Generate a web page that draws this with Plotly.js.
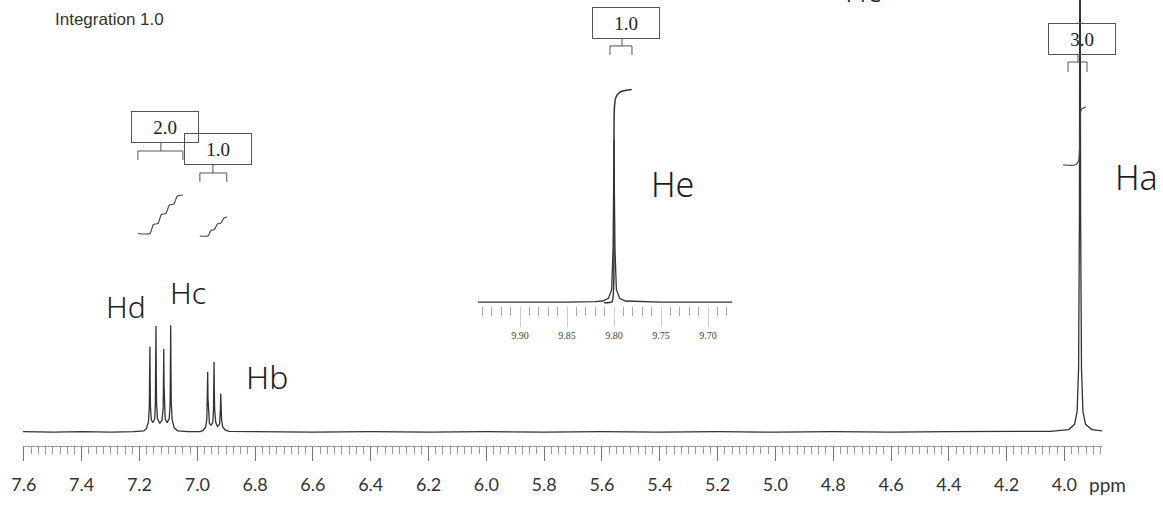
<!DOCTYPE html>
<html><head><meta charset="utf-8">
<script src="https://cdn.plot.ly/plotly-3.0.1.min.js"></script>
<style>html,body{margin:0;padding:0;background:#fff}#chart{width:1163px;height:505px}</style>
</head><body><div id="chart"></div>
<script>
// ---------- DATA ----------
// main 1H spectrum: chemical shift (ppm) and intensity (arb. units)
const specPpm = [7.603,7.50,7.40,7.30,7.22,7.185,7.176,7.169,7.166,7.165,7.164,7.163,7.162,7.159,7.153,
  7.147,7.145,7.144,7.143,7.142,7.141,7.138,7.130,7.122,7.118,7.117,7.116,7.115,7.114,7.111,7.104,
  7.097,7.094,7.093,7.092,7.091,7.090,7.087,7.080,7.068,7.03,6.99,
  6.980,6.971,6.967,6.965,6.964,6.963,6.961,6.958,6.952,6.946,6.944,6.943,6.942,6.941,6.940,6.936,6.930,
  6.923,6.921,6.920,6.919,6.918,6.916,6.912,6.904,6.890,
  6.80,6.60,6.40,6.20,6.00,5.80,5.60,5.40,5.20,5.00,4.80,4.60,4.40,4.20,4.05,
  3.985,3.965,3.956,3.951,3.948,3.947,3.946,3.945,3.944,3.941,3.936,3.927,3.905,3.870];
const specInt = [0.3,0.2,0.3,0.2,0.3,0.5,1.0,2.6,6.0,11.5,19.9,11.5,6.0,3.0,2.4,
  3.4,7.0,14.0,24.7,14.0,7.0,3.4,2.2,3.0,5.8,11.0,19.4,11.0,5.8,3.2,2.4,
  3.4,7.0,14.0,24.9,14.0,7.0,3.0,1.2,0.5,0.3,0.3,
  0.6,1.4,3.2,8.0,14.1,8.0,3.6,2.2,1.8,2.6,5.5,9.5,16.4,9.5,5.5,2.4,1.5,
  2.0,3.5,5.5,9.0,5.5,3.0,1.4,0.7,0.4,
  0.3,0.2,0.3,0.2,0.3,0.2,0.3,0.2,0.3,0.2,0.3,0.2,0.3,0.3,0.4,
  0.8,2.0,5.0,15,50,100,170,100,50,15,5.0,2.0,0.8,0.5];

// integral traces (ppm, integral level)
const intDcPpm = [7.2055,7.1640,7.1519,7.1363,7.1242,7.1087,7.0965,7.0810,7.0689,7.0498];
const intDcVal = [46.07,46.07,48.15,48.38,50.46,50.69,52.66,52.89,54.73,54.97];
const intBPpm  = [6.9910,6.9633,6.9529,6.9408,6.9304,6.9183,6.9080,6.8976];
const intBVal  = [45.50,45.50,46.77,47.00,48.27,48.50,49.65,49.88];
const intAPpm  = [4.0048,3.9633,3.9512,3.9478,3.9460,3.9443,3.9391,3.9253];
const intAVal  = [61.9,61.9,62.8,65.4,71.1,74.1,74.9,75.3];

// aldehyde inset (He)
const insetPpm = [9.9447,9.90,9.85,9.82,9.812,9.806,9.8025,9.8010,9.8003,9.8000,9.7997,9.7990,9.7975,9.794,9.788,9.75,9.70,9.6745];
const insetInt = [0.3,0.2,0.3,0.5,0.8,2,6,25,55,75,55,25,6,2,0.8,0.3,0.2,0.3];
const intEPpm  = [9.8106,9.8020,9.8001,9.8000,9.8000,9.7999,9.7995,9.7985,9.7965,9.7925,9.7868,9.7812];
const intEVal  = [0,0.5,20,50,75,85,90,93.6,95.5,97.0,97.6,97.9];

// integration values and tick labels
const intLabels = ['2.0','1.0','3.0','1.0'];
const mainTicks = [7.6,7.4,7.2,7.0,6.8,6.6,6.4,6.2,6.0,5.8,5.6,5.4,5.2,5.0,4.8,4.6,4.4,4.2,4.0];
const mainTickText = ['7.6','7.4','7.2','7.0','6.8','6.6','6.4','6.2','6.0','5.8','5.6','5.4','5.2','5.0','4.8','4.6','4.4','4.2','4.0'];
const insetTicks = [9.90,9.85,9.80,9.75,9.70];
const insetTickText = ['9.90','9.85','9.80','9.75','9.70'];
const protonLabels = ['Hd','Hc','Hb','He','Ha','Hc'];

// ---------- LAYOUT ----------
const L=23, R=61, T=0, B=59, W=1163-L-R, H=505-T-B;
function pp(px,py){return {x:(px-L)/W, y:1-(py-T)/H};}

const lineC = '#333';
const traces = [
  {x:specPpm, y:specInt, xaxis:'x', yaxis:'y', mode:'lines', line:{color:lineC, width:1.3}, hoverinfo:'skip'},
  {x:intDcPpm, y:intDcVal, xaxis:'x', yaxis:'y', mode:'lines', line:{color:'#444', width:1.1, shape:'spline', smoothing:0.6}},
  {x:intBPpm, y:intBVal, xaxis:'x', yaxis:'y', mode:'lines', line:{color:'#444', width:1.1, shape:'spline', smoothing:0.6}},
  {x:intAPpm, y:intAVal, xaxis:'x', yaxis:'y', mode:'lines', line:{color:'#444', width:1.1, shape:'spline', smoothing:0.6}},
  {x:insetPpm, y:insetInt, xaxis:'x2', yaxis:'y2', mode:'lines', line:{color:lineC, width:1.3}},
  {x:intEPpm, y:intEVal, xaxis:'x2', yaxis:'y2', mode:'lines', line:{color:'#333', width:1.5, shape:'spline', smoothing:0.5}}
];

function bracket(xref,yref,x1,xm,x2,yTop,yBar,yLeg){
  return {type:'path', xref:xref, yref:yref,
    path:`M ${x1},${yLeg} L ${x1},${yBar} L ${x2},${yBar} L ${x2},${yLeg} M ${xm},${yBar} L ${xm},${yTop}`,
    line:{color:'#555', width:1}};
}
const shapes = [
  bracket('x','y',7.2055,7.126,7.0498,66.97,65.13,63.05),
  bracket('x','y',6.991,6.946,6.898,62.12,60.05,58.0),
  bracket('x','y',3.9875,3.953,3.9218,87.3,85.68,83.37),
  bracket('x2','y2',9.8043,9.7915,9.7809,121.1,117.9,113.8)
];

const boxFont = {family:'Liberation Serif, Times New Roman, serif', size:19, color:'#222'};
function box(xref,yref,x,y,t){
  return {xref:xref, yref:yref, x:x, y:y, text:t, showarrow:false, font:boxFont,
    bordercolor:'#555', borderwidth:1, borderpad:0, width:66, height:30, bgcolor:'rgba(0,0,0,0)'};
}
function handLabel(px,py,t,size){
  const p = pp(px,py);
  return {xref:'paper', yref:'paper', x:p.x, y:p.y, text:t, showarrow:false,
    font:{family:'Noto Sans, DejaVu Sans, sans-serif', size:size, color:'#1e1e1e', weight:300},
    xanchor:'center', yanchor:'middle'};
}
const annotations = [
  box('x','y',7.112,70.67,intLabels[0]),
  box('x','y',6.929,65.7,intLabels[1]),
  box('x','y',3.939,91.0,intLabels[2]),
  box('x2','y2',9.7872,128.5,intLabels[3]),
  handLabel(126,306,protonLabels[0],30),
  handLabel(188,292,protonLabels[1],30),
  handLabel(267,376,protonLabels[2],32),
  handLabel(672,184,protonLabels[3],34),
  handLabel(1136,177,protonLabels[4],34),
  Object.assign(handLabel(863,0,protonLabels[5],30), {yanchor:'bottom', y:pp(0,13).y}),
  Object.assign({xref:'paper', yref:'paper', text:'Integration 1.0', showarrow:false, xanchor:'left', yanchor:'middle',
    font:{family:'Liberation Sans, Arial, sans-serif', size:17, color:'#333'}}, {x:pp(53,0).x, y:pp(0,19).y}),
  Object.assign({xref:'paper', yref:'paper', text:'ppm', showarrow:false, xanchor:'center', yanchor:'middle',
    font:{family:'Lato, Open Sans, sans-serif', size:19, color:'#333'}}, {x:pp(1107,0).x, y:pp(0,484).y})
];

const layout = {
  width:1163, height:505, margin:{l:L, r:R, t:T, b:B},
  paper_bgcolor:'#fff', plot_bgcolor:'rgba(0,0,0,0)', showlegend:false, hovermode:false,
  xaxis:{domain:[0,1], anchor:'y', range:[7.603,3.870], showgrid:false, zeroline:false,
    showline:true, linecolor:'#999', linewidth:1,
    tickmode:'array', tickvals:mainTicks, ticktext:mainTickText,
    ticks:'outside', ticklen:14, tickwidth:1, tickcolor:'#777', ticklabelstandoff:8,
    tickfont:{family:'Lato, Open Sans, sans-serif', size:18, color:'#333'},
    minor:{tickmode:'linear', tick0:4.0, dtick:0.025, ticks:'outside', ticklen:7, tickcolor:'#999', showgrid:false}},
  yaxis:{domain:[0,1], anchor:'x', range:[-3,100], visible:false},
  xaxis2:{domain:[(478-L)/W,(732-L)/W], anchor:'y2', range:[9.9447,9.6745], showgrid:false, zeroline:false,
    showline:false, tickmode:'array', tickvals:insetTicks, ticktext:insetTickText,
    ticks:'outside', ticklen:20, tickwidth:1, tickcolor:'#ccc',
    tickfont:{family:'Liberation Serif, serif', size:10, color:'#444'},
    minor:{tickmode:'linear', tick0:9.70, dtick:0.01, ticks:'outside', ticklen:9, tickcolor:'#aaa', showgrid:false}},
  yaxis2:{domain:[1-(306-T)/H,1], anchor:'x2', range:[-1.5,139], visible:false},
  shapes:shapes, annotations:annotations
};

Plotly.newPlot('chart', traces, layout, {staticPlot:true, displayModeBar:false});
</script></body></html>
